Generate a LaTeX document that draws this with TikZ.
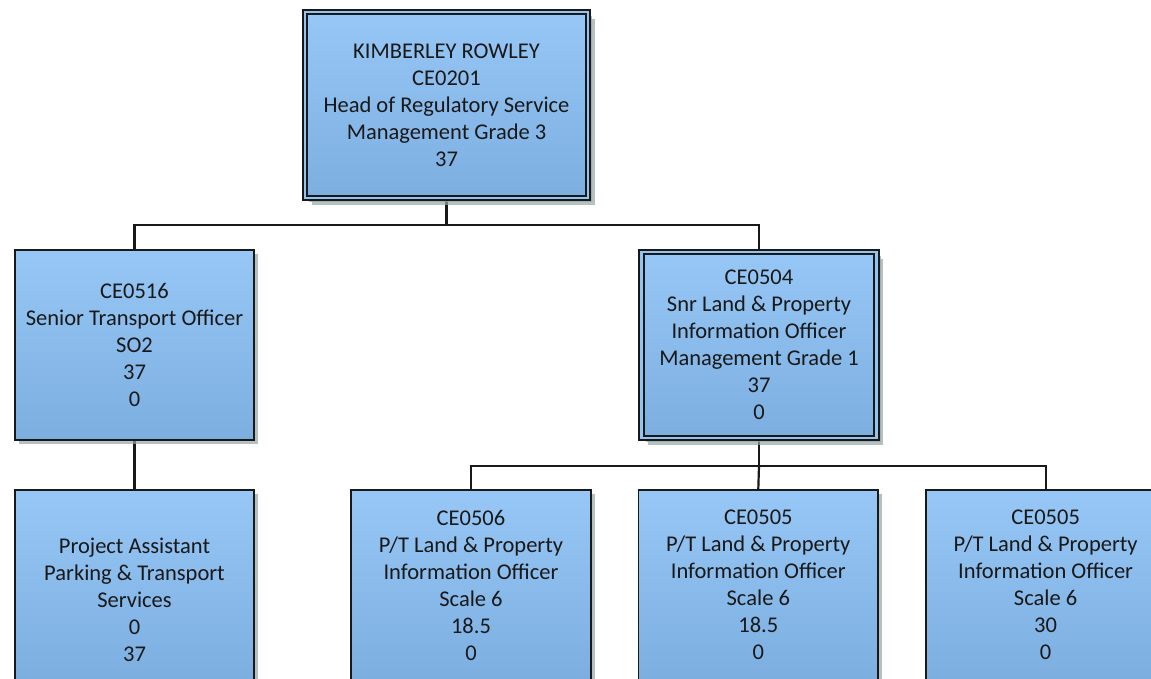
\documentclass[tikz,border=0pt]{standalone}
\usepackage{fontspec}
\setmainfont{Carlito}
\usetikzlibrary{positioning, shadows, backgrounds}
\definecolor{boxtop}{RGB}{150,199,246}
\definecolor{boxbottom}{RGB}{124,174,224}
\definecolor{boxshade}{RGB}{150,165,165}
\tikzstyle{Link} = [line width=2.2pt, black!90]

\begin{document}
\begin{tikzpicture}[
x=1pt, y=1pt,
post/.style={
    rectangle,
    draw=black!90,
    line width=1.8pt,
    top color=boxtop,
    bottom color=boxbottom,
    minimum width=239.5pt,
    minimum height=190.5pt,
    inner sep=0pt,
    align=center,
    text=black!90,
    font={\fontsize{22.5}{27}\selectfont},
    drop shadow={shadow xshift=4pt, shadow yshift=-4pt, fill=boxshade, opacity=0.7}
    },
headpost/.style={
    post,
    double=boxtop!85!boxbottom,
    double distance=2.8pt,
    line width=1.7pt,
    minimum width=235pt,
    minimum height=186pt,
    drop shadow={shadow xshift=6.5pt, shadow yshift=-6.5pt, fill=boxshade, opacity=0.7}
    }
]
\useasboundingbox (0,0) rectangle (1151,-678);

\node [headpost, minimum width=283pt] (head) at (446.5,-105) {
    KIMBERLEY ROWLEY\\CE0201\\Head of Regulatory Service\\Management Grade 3\\37
};

\node [post] (ce0516) at (134.5,-345) {
    CE0516\\Senior Transport Officer\\SO2\\37\\0
};
\node [headpost] (ce0504) at (759,-345) {
    CE0504\\Snr Land \& Property\\Information Officer\\Management Grade 1\\37\\0
};

\node [post] (pa) at (134.5,-585) {
    \strut\\Project Assistant\\Parking \& Transport\\Services\\0\\37
};
\node [post] (ce0506) at (471,-585) {
    CE0506\\P/T Land \& Property\\Information Officer\\Scale 6\\18.5\\0
};
\node [post, right = 46pt of ce0506] (ce0505a) {
    CE0505\\P/T Land \& Property\\Information Officer\\Scale 6\\18.5\\0
};
\node [post, right = 46pt of ce0505a] (ce0505b) {
    CE0505\\P/T Land \& Property\\Information Officer\\Scale 6\\30\\0
};

\begin{scope}[on background layer]
\draw[Link] (head.south) -- ++(0,-26) coordinate (headjoin);
\draw[Link] (headjoin) -| (ce0516.north);
\draw[Link] (headjoin) -| (ce0504.north);

\draw[Link] (ce0516.south) -- (pa.north);

\draw[Link] (ce0504.south) -- ++(0,-27) coordinate (snrjoin);
\draw[Link] (snrjoin) -| (ce0506.north);
\draw[Link] (snrjoin) -- (ce0505a.north);
\draw[Link] (snrjoin) -| (ce0505b.north);
\end{scope}

\end{tikzpicture}
\end{document}
